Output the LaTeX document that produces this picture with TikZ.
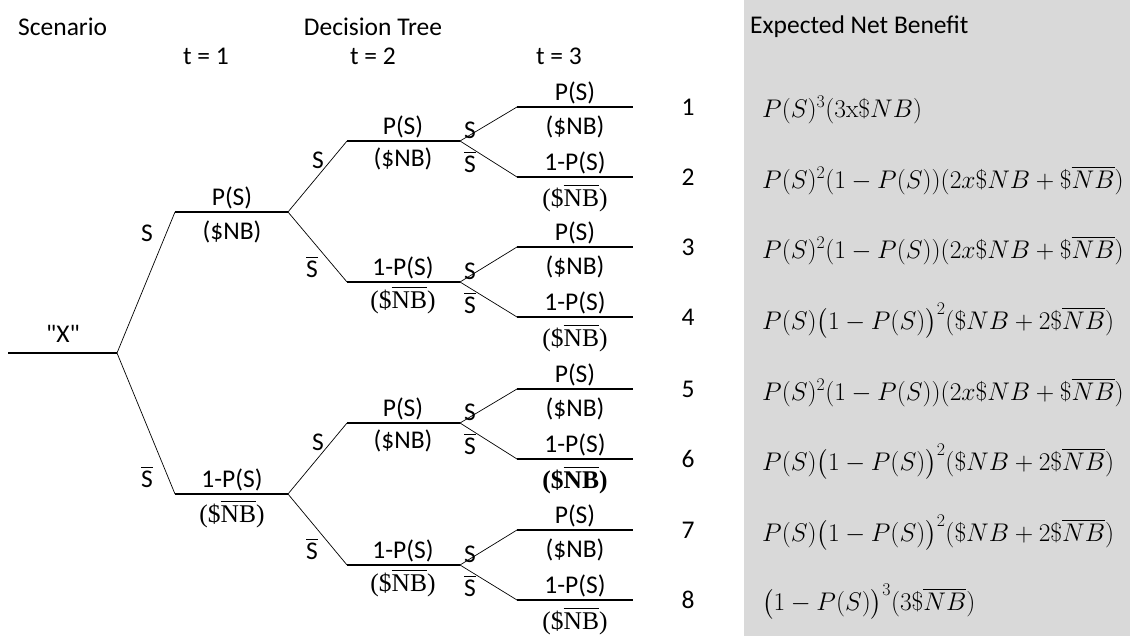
\RequirePackage{fix-cm}
\documentclass[tikz,border=0pt]{standalone}
\usepackage{amsmath}
\usepackage[no-math]{fontspec}
\setmainfont{Carlito}
\newfontfamily\qfont{Carlito}
\newfontfamily\serfont{Liberation Serif}
\newcommand{\sbar}{$\overline{\mbox{S}}$}
\newcommand{\nbbar}{{\serfont(\$$\overline{\mbox{\serfont NB}}$)}}
\newcommand{\nbbarbold}{{\serfont\bfseries(\$$\overline{\mbox{\serfont\bfseries NB}}$)}}
\begin{document}
\begin{tikzpicture}[x=1pt,y=-1pt,
  hl/.style={line width=2.2pt},
  dl/.style={line width=0.7pt},
  txt/.style={font=\fontsize{25.5}{28}\selectfont, inner sep=0pt},
  frm/.style={font=\fontsize{25.5}{28}\selectfont, inner sep=0pt, anchor=west}]
\useasboundingbox (0,0) rectangle (1130,636);
\fill[black!15] (744,0) rectangle (1130,636);

% headers
\node[txt, anchor=west] (hscen) at (18,27) {Scenario};
\node[txt] (hdec) at (373,27) {Decision Tree};
\node[txt] (ht1) at (206,56) {t = 1};
\node[txt] (ht2) at (373,56) {t = 2};
\node[txt] (ht3) at (559,56) {t = 3};
\node[txt, anchor=west] (henb) at (750,27) {Expected Net Benefit};

% coordinates
\coordinate (r0) at (8,353);   \coordinate (r1) at (117,353);
\coordinate (a0) at (175,212); \coordinate (a1) at (288,212);
\coordinate (b0) at (175,494); \coordinate (b1) at (288,494);
\coordinate (aa0) at (347,141); \coordinate (aa1) at (460,141);
\coordinate (ab0) at (347,282); \coordinate (ab1) at (460,282);
\coordinate (ba0) at (347,423); \coordinate (ba1) at (460,423);
\coordinate (bb0) at (347,565); \coordinate (bb1) at (460,565);
\foreach \i/\y in {1/107,2/177,3/247,4/317,5/389,6/459,7/530,8/600}{
  \coordinate (l\i0) at (517,\y); \coordinate (l\i1) at (633,\y);
}

% horizontal lines
\draw[hl] (r0) -- (r1);
\draw[hl] (a0) -- (a1);
\draw[hl] (b0) -- (b1);
\draw[hl] (aa0) -- (aa1);
\draw[hl] (ab0) -- (ab1);
\draw[hl] (ba0) -- (ba1);
\draw[hl] (bb0) -- (bb1);
\foreach \i in {1,...,8}{ \draw[hl] (l\i0) -- (l\i1); }

% diagonals
\draw[dl] (r1) -- (a0);
\draw[dl] (r1) -- (b0);
\draw[dl] (a1) -- (aa0);
\draw[dl] (a1) -- (ab0);
\draw[dl] (b1) -- (ba0);
\draw[dl] (b1) -- (bb0);
\draw[dl] (aa1) -- (l10);
\draw[dl] (aa1) -- (l20);
\draw[dl] (ab1) -- (l30);
\draw[dl] (ab1) -- (l40);
\draw[dl] (ba1) -- (l50);
\draw[dl] (ba1) -- (l60);
\draw[dl] (bb1) -- (l70);
\draw[dl] (bb1) -- (l80);

% root label
\node[txt] (lx) at (63,334) {\qfont "X"};
\node[txt] (sr1) at (147,233) {S};
\node[txt] (sr2) at (147,477) {\sbar};

% t=1 labels
\node[txt] (pa) at (232,198) {P(S)};
\node[txt] (na) at (232,232) {(\$NB)};
\node[txt] (pb) at (232,480) {1-P(S)};
\node[txt] (nb) at (232,514) {\nbbar};

% t=2 branch labels
\node[txt] (sa1) at (318,160) {S};
\node[txt] (sa2) at (312,267) {\sbar};
\node[txt] (sb1) at (318,442) {S};
\node[txt] (sb2) at (312,549) {\sbar};

% t=2 line labels
\node[txt] (paa) at (403,127) {P(S)};
\node[txt] (naa) at (403,159) {(\$NB)};
\node[txt] (pab) at (403,268) {1-P(S)};
\node[txt] (nab) at (403,300) {\nbbar};
\node[txt] (pba) at (403,409) {P(S)};
\node[txt] (nba) at (403,441) {(\$NB)};
\node[txt] (pbb) at (403,551) {1-P(S)};
\node[txt] (nbb) at (403,583) {\nbbar};

% t=3 branch labels
\foreach \n/\y in {aa/141,ab/282,ba/423,bb/565}{
  \node[txt] (s\n1) at (470,\y-11) {S};
  \node[txt] (s\n2) at (470,\y+21) {\sbar};
}

% t=3 line labels
\foreach \i/\y in {1/107,3/247,5/389,7/530}{
  \node[txt] (p\i) at (575,\y-14) {P(S)};
  \node[txt] (n\i) at (575,\y+20) {(\$NB)};
}
\foreach \i/\y in {2/177,4/317,8/600}{
  \node[txt] (p\i) at (575,\y-14) {1-P(S)};
  \node[txt] (n\i) at (575,\y+21) {\nbbar};
}
\node[txt] (p6) at (575,459-14) {1-P(S)};
\node[txt] (n6) at (575,459+21) {\nbbarbold};

% outcome numbers
\foreach \i/\y in {1/107,2/177,3/247,4/317,5/389,6/459,7/530,8/600}{
  \node[txt] (k\i) at (688,\y) {\i};
}

% formulas
\node[frm] (f1) at (762,110) {$P(S)^3(3\mathrm{x}\$NB)$};
\node[frm] (f2) at (762,180) {$P(S)^2(1-P(S))(2x\$NB+\$\overline{NB})$};
\node[frm] (f3) at (762,250) {$P(S)^2(1-P(S))(2x\$NB+\$\overline{NB})$};
\node[frm] (f4) at (762,321) {$P(S)\bigl(1-P(S)\bigr)^2(\$NB+2\$\overline{NB})$};
\node[frm] (f5) at (762,392) {$P(S)^2(1-P(S))(2x\$NB+\$\overline{NB})$};
\node[frm] (f6) at (762,462) {$P(S)\bigl(1-P(S)\bigr)^2(\$NB+2\$\overline{NB})$};
\node[frm] (f7) at (762,533) {$P(S)\bigl(1-P(S)\bigr)^2(\$NB+2\$\overline{NB})$};
\node[frm] (f8) at (762,602) {$\bigl(1-P(S)\bigr)^3(3\$\overline{NB})$};
\end{tikzpicture}
\end{document}
